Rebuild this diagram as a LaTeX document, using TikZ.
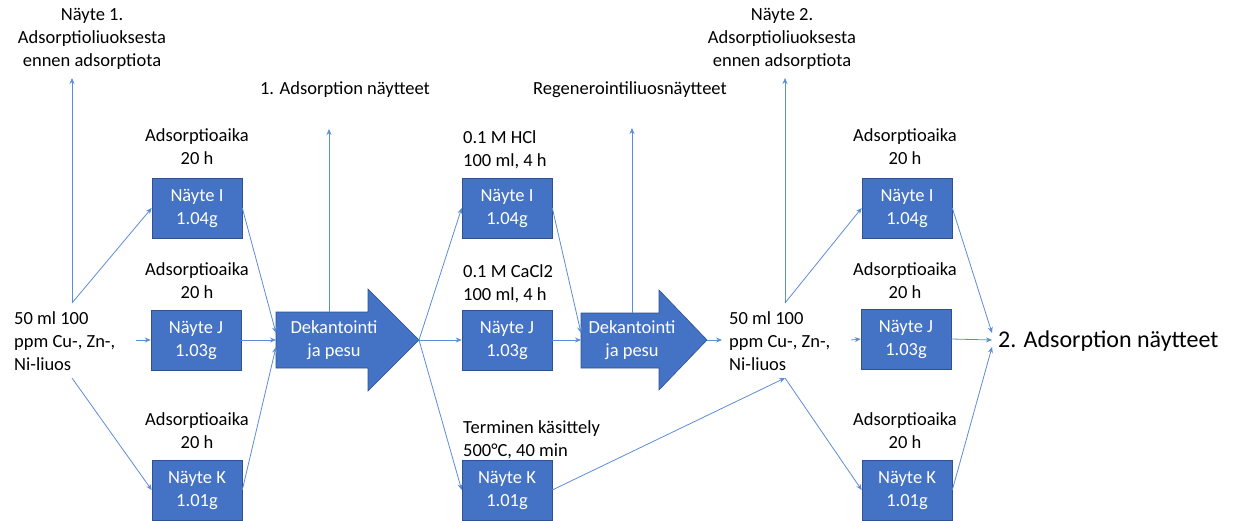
\documentclass[tikz,border=0pt]{standalone}
\usepackage{fontspec}
\setmainfont{Carlito}
\usetikzlibrary{arrows.meta}
\definecolor{boxfill}{RGB}{68,114,196}
\definecolor{boxline}{RGB}{47,82,143}
\definecolor{conncol}{RGB}{91,141,214}
\begin{document}
\begin{tikzpicture}[x=1pt,y=-1pt,
  every node/.style={font=\fontsize{18.5}{23}\selectfont},
  box/.style={rectangle, fill=boxfill, draw=boxline, line width=0.6pt, text=white, minimum width=90pt, minimum height=60pt, inner sep=0pt, align=center},
  lbl/.style={align=center, inner sep=0pt},
  lbll/.style={align=left, inner sep=0pt, anchor=west},
  conn/.style={draw=conncol, line width=0.8pt, -{Stealth[length=6pt,width=5pt]}},
  bigarrow/.style={fill=boxfill, draw=boxline, line width=0.6pt}]
\useasboundingbox (0,0) rectangle (1238,521);

% boxes
\node[box] (LI) at (197,208) {Näyte I\\1.04g};
\node[box] (LJ) at (196,340) {Näyte J\\1.03g};
\node[box] (LK) at (197,490) {Näyte K\\1.01g};
\node[box] (MI) at (507,208) {Näyte I\\1.04g};
\node[box] (MJ) at (507,340) {Näyte J\\1.03g};
\node[box] (MK) at (507,490) {Näyte K\\1.01g};
\node[box] (RI) at (907,208) {Näyte I\\1.04g};
\node[box] (RJ) at (906,339) {Näyte J\\1.03g};
\node[box] (RK) at (907,490) {Näyte K\\1.01g};

% labels
\node[lbl] (tLI) at (197,147) {Adsorptioaika\\20 h};
\node[lbl] (tLJ) at (197,281) {Adsorptioaika\\20 h};
\node[lbl] (tLK) at (197,431) {Adsorptioaika\\20 h};
\node[lbl] (tRI) at (905,147) {Adsorptioaika\\20 h};
\node[lbl] (tRJ) at (905,281) {Adsorptioaika\\20 h};
\node[lbl] (tRK) at (905,431) {Adsorptioaika\\20 h};
\node[lbll] (tMI) at (463,150) {0.1 M HCl\\100 ml, 4 h};
\node[lbll] (tMJ) at (463,284) {0.1 M CaCl2\\100 ml, 4 h};
\node[lbll] (tMK) at (463,440) {Terminen käsittely\\500°C, 40 min};

\node[lbll] (sol1) at (14,341) {50 ml 100\\ppm Cu-, Zn-,\\Ni-liuos};
\node[lbll] (sol2) at (729,341) {50 ml 100\\ppm Cu-, Zn-,\\Ni-liuos};

\node[lbl] (n1) at (92,39) {Näyte 1.\\Adsorptioliuoksesta\\ennen adsorptiota};
\node[lbl] (n2) at (782,39) {Näyte 2.\\Adsorptioliuoksesta\\ennen adsorptiota};
\node[lbl] (ads1) at (345,90) {1. Adsorption näytteet};
\node[lbl] (regen) at (630,90) {Regenerointiliuosnäytteet};
\node[lbll,font=\fontsize{24}{28}\selectfont] (ads2) at (998,341) {2. Adsorption näytteet};

% big arrows
\draw[bigarrow] (276,312) -- (368,312) -- (368,289) -- (419,340) -- (368,391) -- (368,368) -- (276,368) -- cycle;
\node[lbl,text=white] (dek1) at (334,340) {Dekantointi\\ja pesu};
\draw[bigarrow] (581,313) -- (659,313) -- (659,290) -- (707,340) -- (659,390) -- (659,368) -- (581,368) -- cycle;
\node[lbl,text=white] (dek2) at (632,340) {Dekantointi\\ja pesu};

% coordinates
\coordinate (a1tip) at (419,340);
\coordinate (a1top) at (329,312);
\coordinate (a1in1) at (276,333);
\coordinate (a1in2) at (276,340);
\coordinate (a1in3) at (276,347);
\coordinate (a2tip) at (707,340);
\coordinate (a2top) at (632,313);
\coordinate (a2in1) at (581,333);
\coordinate (a2in2) at (581,340);
\coordinate (a2in3) at (581,347);
\coordinate (s1top) at (72,303);
\coordinate (s1bot) at (72,378);
\coordinate (s1out) at (136,340);
\coordinate (s2top) at (785,303);
\coordinate (s2bot) at (785,378);
\coordinate (s2in) at (722,340);
\coordinate (s2out) at (851,340);
\coordinate (n1in) at (72,78);
\coordinate (n2in) at (785,78);
\coordinate (ads1in) at (329,129);
\coordinate (regenin) at (632,128);
\coordinate (o1) at (992,333);
\coordinate (o2) at (992,340);
\coordinate (o3) at (992,347);

% connectors
\draw[conn] (s1top) -- (n1in);
\draw[conn] (s1top) -- (LI.west);
\draw[conn] (s1bot) -- (LK.west);
\draw[conn] (s1out) -- (LJ.west);
\draw[conn] (LI.east) -- (a1in1);
\draw[conn] (LJ.east) -- (a1in2);
\draw[conn] (LK.east) -- (a1in3);
\draw[conn] (a1top) -- (ads1in);
\draw[conn] (a1tip) -- (MI.west);
\draw[conn] (a1tip) -- (MJ.west);
\draw[conn] (a1tip) -- (MK.west);
\draw[conn] (MI.east) -- (a2in1);
\draw[conn] (MJ.east) -- (a2in2);
\draw[conn] (MK.east) -- (s2bot);
\draw[conn] (a2top) -- (regenin);
\draw[conn] (a2tip) -- (s2in);
\draw[conn] (s2top) -- (n2in);
\draw[conn] (s2top) -- (RI.west);
\draw[conn] (s2bot) -- (RK.west);
\draw[conn] (s2out) -- (RJ.west);
\draw[conn] (RI.east) -- (o1);
\draw[conn] (RJ.east) -- (o2);
\draw[conn] (RK.east) -- (o3);
\end{tikzpicture}
\end{document}
